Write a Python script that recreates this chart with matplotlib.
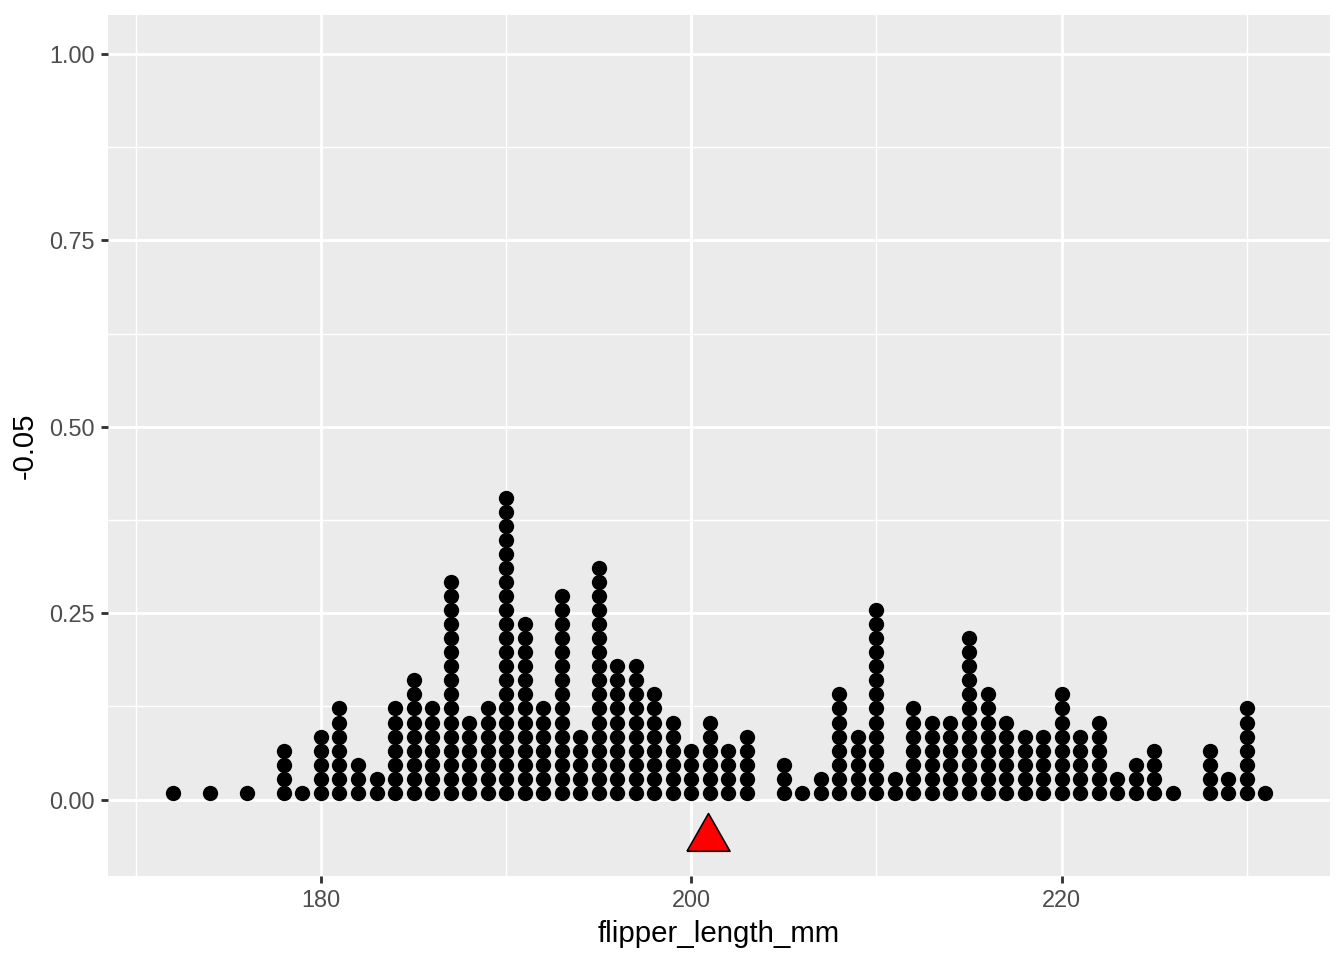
#!/usr/bin/env python3
"""Dot plot of penguin flipper lengths with the mean marked below."""

import matplotlib
matplotlib.use("Agg")
import matplotlib.pyplot as plt
from matplotlib.ticker import MultipleLocator
import numpy as np

# flipper length (mm) -> number of penguins
FLIPPER_MM = [172, 174, 176, 178, 179, 180, 181, 182, 183, 184, 185, 186, 187, 188,
              189, 190, 191, 192, 193, 194, 195, 196, 197, 198, 199, 200, 201, 202,
              203, 205, 206, 207, 208, 209, 210, 211, 212, 213, 214, 215, 216, 217,
              218, 219, 220, 221, 222, 223, 224, 225, 226, 228, 229, 230, 231]
COUNTS = [1, 1, 1, 4, 1, 5, 7, 3, 2, 7, 9, 7, 16, 6,
          7, 22, 13, 7, 15, 5, 17, 10, 10, 8, 6, 4, 6, 4,
          5, 3, 1, 2, 8, 5, 14, 2, 7, 6, 6, 12, 8, 6,
          5, 5, 8, 5, 6, 2, 3, 4, 1, 4, 2, 7, 1]
MEAN_Y = -0.05
Y_TICKS = [0.0, 0.25, 0.5, 0.75, 1.0]
X_TICKS = [180, 200, 220]

STACK_STEP = 0.0188  # vertical spacing between stacked dots, in y units

plt.rcParams.update({
    "font.family": ["Liberation Sans", "DejaVu Sans"],
})

fig = plt.figure(figsize=(7, 5), dpi=192)
ax = fig.add_axes([0.0804, 0.0875, 0.9092, 0.8969])
ax.set_facecolor("#EBEBEB")
for s in ax.spines.values():
    s.set_visible(False)

xs, ys = [], []
for v, c in zip(FLIPPER_MM, COUNTS):
    for k in range(c):
        xs.append(v)
        ys.append((k + 0.5) * STACK_STEP)
ax.scatter(xs, ys, s=33, color="black", linewidths=0, zorder=3)

mean_len = np.sum(np.array(FLIPPER_MM) * np.array(COUNTS)) / np.sum(COUNTS)
# ggplot-style triangle (shape 24), centred a little lower than matplotlib's '^'
tri = [(-1.14, -0.73), (1.14, -0.73), (0.0, 1.27), (-1.14, -0.73)]
ax.plot([mean_len], [MEAN_Y], marker=tri, markersize=18, color="red",
        markeredgecolor="black", markeredgewidth=0.6, linestyle="none", zorder=4)

ax.set_xlim(168.5, 234.5)
ax.set_ylim(-0.1025, 1.0525)
ax.set_xticks(X_TICKS)
ax.set_yticks(Y_TICKS)
ax.set_yticklabels([f"{t:.2f}" for t in Y_TICKS])
ax.xaxis.set_minor_locator(MultipleLocator(10))
ax.yaxis.set_minor_locator(MultipleLocator(0.125))

ax.grid(which="major", color="white", linewidth=1.07)
ax.grid(which="minor", color="white", linewidth=0.53)
ax.set_axisbelow(True)
ax.tick_params(which="major", length=2.75, width=1.07, color="#333333",
               labelsize=8.8, labelcolor="#4D4D4D", pad=2.2)
ax.tick_params(which="minor", length=0)

ax.set_xlabel("flipper_length_mm", fontsize=11, labelpad=3)
ax.set_ylabel("-0.05", fontsize=11, labelpad=4)

fig.savefig("out.png", dpi=192)
